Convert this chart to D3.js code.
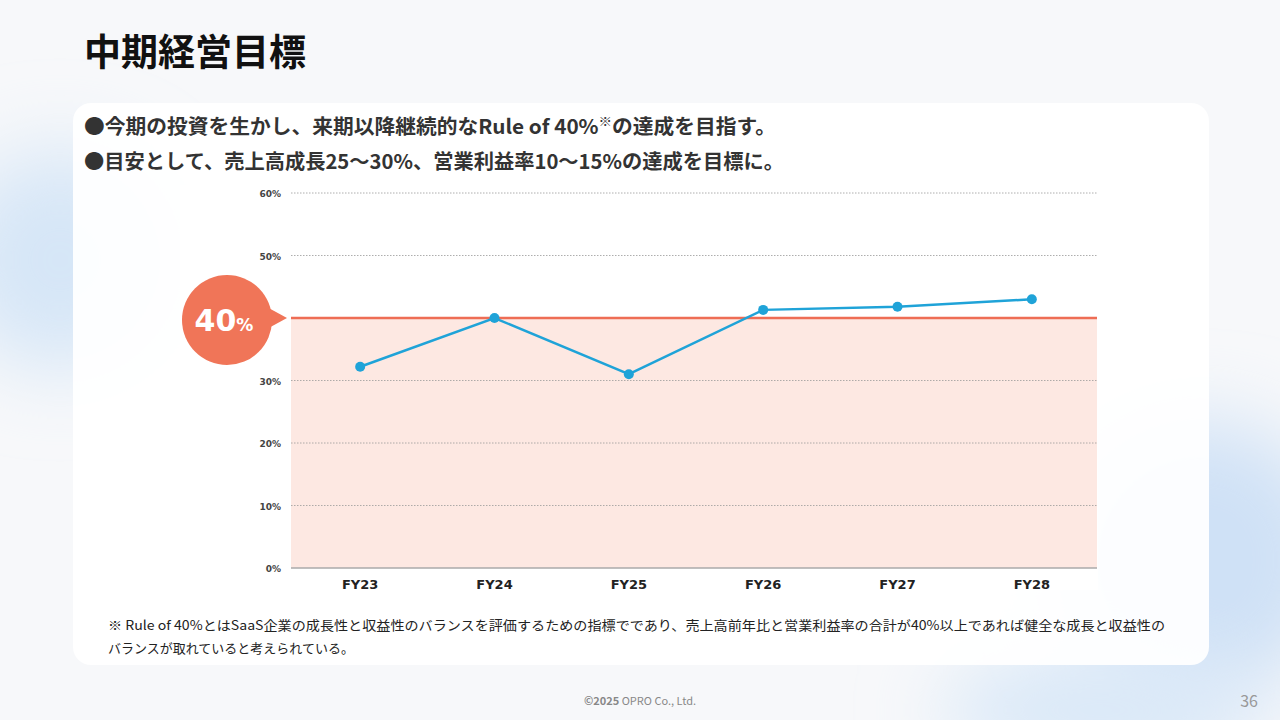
<!DOCTYPE html>
<html><head><meta charset="utf-8">
<script src="https://cdn.jsdelivr.net/npm/d3@7"></script>
<style>body{margin:0;}svg{display:block;font-family:"Noto Sans CJK JP","Noto Sans",sans-serif;}</style>
</head><body><svg id="c" width="1280" height="720"></svg>
<script>
const categories=["FY23","FY24","FY25","FY26","FY27","FY28"];
const ruleOf40=[32.2,40.0,31.0,41.3,41.8,43.0];
const yTicks=[0,10,20,30,40,50,60];
const target=40;

const svg=d3.select("#c");
const defs=svg.append("defs");
const bl=defs.append("filter").attr("id","blur").attr("x","-50%").attr("y","-50%").attr("width","200%").attr("height","200%");
bl.append("feGaussianBlur").attr("stdDeviation",40);
svg.append("rect").attr("width",1280).attr("height",720).attr("fill","#f7f8fa");
svg.append("ellipse").attr("cx",60).attr("cy",260).attr("rx",110).attr("ry",110).attr("fill","#d6e6f7").attr("filter","url(#blur)");
svg.append("ellipse").attr("cx",1200).attr("cy",560).attr("rx",140).attr("ry",140).attr("fill","#cfe1f6").attr("filter","url(#blur)");
svg.append("ellipse").attr("cx",1100).attr("cy",710).attr("rx",160).attr("ry",60).attr("fill","#d9e8f8").attr("filter","url(#blur)");
svg.append("rect").attr("x",73).attr("y",103).attr("width",1136).attr("height",562).attr("rx",18).attr("fill","#ffffff").attr("opacity",0.93);

svg.append("text").attr("x",84).attr("y",66).attr("font-size",37).attr("font-weight",700).attr("fill","#111").text("中期経営目標");
svg.append("text").attr("x",84).attr("y",134).attr("font-size",20).attr("font-weight",700).attr("fill","#333").attr("textLength",692).attr("lengthAdjust","spacingAndGlyphs")
 .html('●今期の投資を生かし、来期以降継続的なRule of 40%<tspan font-size="13" dy="-8">※</tspan><tspan dy="8">の達成を目指す。</tspan>');
svg.append("text").attr("x",84).attr("y",169).attr("font-size",20).attr("font-weight",700).attr("fill","#333").attr("textLength",700).attr("lengthAdjust","spacingAndGlyphs").text("●目安として、売上高成長25～30%、営業利益率10～15%の達成を目標に。");

svg.append("rect").attr("x",180).attr("y",185).attr("width",918).attr("height",405).attr("fill","#fff");
const x=d3.scalePoint().domain(categories).range([293,1099]).padding(0.5);
const y=d3.scaleLinear().domain([0,60]).range([568,193]);
const g=svg.append("g");
g.append("rect").attr("x",291).attr("y",y(target)).attr("width",1097-291).attr("height",y(0)-y(target)).attr("fill","#fde8e2");
g.selectAll(".gl").data(yTicks.filter(d=>d>0&&d!==target)).join("line").attr("x1",291).attr("x2",1097)
 .attr("y1",d=>y(d)).attr("y2",d=>y(d)).attr("stroke","#999").attr("stroke-width",0.8).attr("stroke-dasharray","1.5,1.5");
g.append("line").attr("x1",291).attr("x2",1097).attr("y1",y(0)).attr("y2",y(0)).attr("stroke","#aaa").attr("stroke-width",1.5);
g.selectAll(".yl").data(yTicks.filter(d=>d!==target)).join("text").attr("x",281).attr("y",d=>y(d)+4).attr("text-anchor","end")
 .attr("font-size",9).attr("font-weight",700).attr("fill","#444").attr("font-family","DejaVu Sans, sans-serif").text(d=>d+"%");
g.append("line").attr("x1",291).attr("x2",1097).attr("y1",y(target)).attr("y2",y(target)).attr("stroke","#ee6d55").attr("stroke-width",2.5);
g.selectAll(".xl").data(categories).join("text").attr("x",d=>x(d)).attr("y",589).attr("text-anchor","middle")
 .attr("font-size",13).attr("font-weight",700).attr("fill","#222").attr("font-family","DejaVu Sans, sans-serif").text(d=>d);
const by=y(target);
g.append("path").attr("d",`M 265 ${by-12} L 287 ${by} L 265 ${by+12} Z`).attr("fill","#f07558");
g.append("circle").attr("cx",227).attr("cy",by+2).attr("r",45).attr("fill","#f07558");
g.append("text").attr("x",224).attr("y",by+13).attr("text-anchor","middle").attr("fill","#fff").attr("font-weight",700)
 .attr("font-size",30).attr("font-family","DejaVu Sans, sans-serif").html('40<tspan font-size="17">%</tspan>');
g.append("path").datum(ruleOf40).attr("fill","none").attr("stroke","#1fa3d8").attr("stroke-width",2.5)
 .attr("d",d3.line().x((d,i)=>x(categories[i])).y(d=>y(d)));
g.selectAll(".pt").data(ruleOf40).join("circle").attr("cx",(d,i)=>x(categories[i])).attr("cy",d=>y(d)).attr("r",5).attr("fill","#1fa3d8");

svg.append("text").attr("x",108).attr("y",630).attr("font-size",13).attr("fill","#222").attr("textLength",1057).attr("lengthAdjust","spacingAndGlyphs").text("※ Rule of 40%とはSaaS企業の成長性と収益性のバランスを評価するための指標でであり、売上高前年比と営業利益率の合計が40%以上であれば健全な成長と収益性の");
svg.append("text").attr("x",108).attr("y",653).attr("font-size",13).attr("fill","#222").text("バランスが取れていると考えられている。");
svg.append("text").attr("x",640).attr("y",705).attr("text-anchor","middle").attr("font-size",11).attr("fill","#888").html('<tspan font-weight="700">©2025</tspan> OPRO Co., Ltd.');
svg.append("text").attr("x",1258).attr("y",707).attr("text-anchor","end").attr("font-size",16).attr("fill","#999").text("36");
</script></body></html>
